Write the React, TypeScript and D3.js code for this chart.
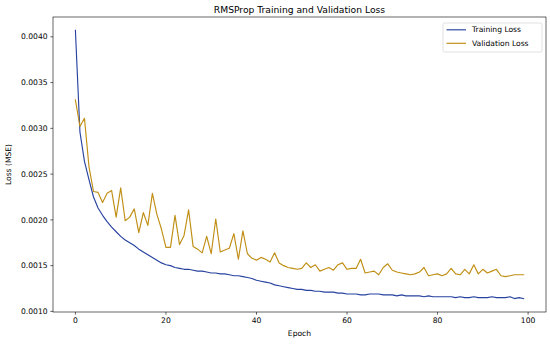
import React from "react";
import * as d3 from "d3";

const epochs: number[] = Array.from({ length: 100 }, (_, i) => i);

const trainingLoss: number[] = [
  0.00407, 0.00296, 0.00264, 0.00244, 0.00225, 0.00213, 0.00205, 0.00198, 0.00192, 0.00187,
  0.00182, 0.00178, 0.00175, 0.00172, 0.00168, 0.00165, 0.00162, 0.00159, 0.00156, 0.00153,
  0.00151, 0.0015, 0.00148, 0.00147, 0.00146, 0.00146, 0.00145, 0.00144, 0.00144, 0.00143,
  0.00142, 0.00142, 0.00141, 0.00141, 0.0014, 0.00139, 0.00139, 0.00138, 0.00137, 0.00136,
  0.00134, 0.00133, 0.00132, 0.00131, 0.00129, 0.00128, 0.00127, 0.00126, 0.00125, 0.00124,
  0.00124, 0.00123, 0.00123, 0.00122, 0.00122, 0.00121, 0.00121, 0.00121, 0.0012, 0.0012,
  0.00119, 0.00119, 0.00119, 0.00118, 0.00118, 0.00119, 0.00119, 0.00119, 0.00118, 0.00118,
  0.00118, 0.00117, 0.00118, 0.00117, 0.00117, 0.00117, 0.00117, 0.00116, 0.00117, 0.00116,
  0.00116, 0.00116, 0.00116, 0.00116, 0.00115, 0.00116, 0.00115, 0.00115, 0.00116, 0.00115,
  0.00115, 0.00115, 0.00116, 0.00115, 0.00115, 0.00115, 0.00116, 0.00114, 0.00115, 0.00114,
];

const validationLoss: number[] = [
  0.00331, 0.00302, 0.00311, 0.00258, 0.00231, 0.0023, 0.00219, 0.00229, 0.00232, 0.00203,
  0.00235, 0.00199, 0.00203, 0.00212, 0.00186, 0.00208, 0.00194, 0.00229, 0.00206, 0.0019,
  0.0017, 0.0017, 0.00205, 0.00173, 0.00183, 0.00211, 0.00171, 0.00168, 0.00164, 0.00182,
  0.00163, 0.00201, 0.00165, 0.00167, 0.00169, 0.00185, 0.00157, 0.00188, 0.00163, 0.00158,
  0.00156, 0.00159, 0.00157, 0.00154, 0.00164, 0.00153, 0.0015, 0.00148, 0.00147, 0.00146,
  0.00147, 0.00153, 0.00148, 0.00151, 0.00144, 0.00146, 0.00148, 0.00145, 0.00151, 0.00153,
  0.00146, 0.00147, 0.00147, 0.00157, 0.00142, 0.00143, 0.00144, 0.0014, 0.00148, 0.00152,
  0.00145, 0.00143, 0.00142, 0.00141, 0.0014, 0.00141, 0.00143, 0.00148, 0.00139, 0.0014,
  0.00141, 0.00139, 0.00141, 0.00147, 0.00141, 0.0014, 0.00146, 0.00141, 0.00151, 0.00141,
  0.00146, 0.00142, 0.00144, 0.00146, 0.00139, 0.00138, 0.00139, 0.0014, 0.0014, 0.0014,
];

const xTicks: number[] = [0, 20, 40, 60, 80, 100];
const yTicks: number[] = [0.001, 0.0015, 0.002, 0.0025, 0.003, 0.0035, 0.004];

const seriesNames: string[] = ["Training Loss", "Validation Loss"];
const seriesColors: string[] = ["#2742a0", "#c08e14"];

const W = 550;
const H = 344;
const left = 53;
const right = 546;
const top = 17;
const bottom = 312;
const FONT = "DejaVu Sans, sans-serif";

export default function App() {
  const xMin = 0, xMax = 99;
  const xPad = (xMax - xMin) * 0.05;
  const x = d3.scaleLinear().domain([xMin - xPad, xMax + xPad]).range([left, right]);
  const all = trainingLoss.concat(validationLoss);
  const yLo = d3.min(all) as number;
  const yHi = d3.max(all) as number;
  const yPad = (yHi - yLo) * 0.05;
  const y = d3.scaleLinear().domain([yLo - yPad, yHi + yPad]).range([bottom, top]);

  const line = d3
    .line<number>()
    .x((_, i) => x(epochs[i]))
    .y((d) => y(d));

  const series = [trainingLoss, validationLoss];
  const tickLen = 2.7;
  const fs = 7.6;

  return (
    <svg
      width={W}
      height={H}
      style={{ position: "absolute", left: 0, top: 0, background: "#fff" }}
      fontFamily={FONT}
    >
      <rect x={0} y={0} width={W} height={H} fill="#fff" />
      <text x={(left + right) / 2} y={13} textAnchor="middle" fontSize={9.2} fill="#000">
        RMSProp Training and Validation Loss
      </text>

      <defs>
        <clipPath id="plotclip">
          <rect x={left} y={top} width={right - left} height={bottom - top} />
        </clipPath>
      </defs>

      <g clipPath="url(#plotclip)">
        {series.map((s, k) => (
          <path
            key={k}
            d={line(s) || ""}
            fill="none"
            stroke={seriesColors[k]}
            strokeWidth={1.15}
            strokeLinejoin="round"
            strokeLinecap="square"
          />
        ))}
      </g>

      {/* frame */}
      <rect
        x={left}
        y={top}
        width={right - left}
        height={bottom - top}
        fill="none"
        stroke="#000"
        strokeWidth={0.6}
      />

      {/* x ticks */}
      {xTicks.map((t) => (
        <g key={"x" + t}>
          <line x1={x(t)} x2={x(t)} y1={bottom} y2={bottom + tickLen} stroke="#000" strokeWidth={0.6} />
          <text x={x(t)} y={bottom + tickLen + 2.7 + 6} textAnchor="middle" fontSize={fs} fill="#000">
            {t}
          </text>
        </g>
      ))}

      {/* y ticks */}
      {yTicks.map((t) => (
        <g key={"y" + t}>
          <line x1={left - tickLen} x2={left} y1={y(t)} y2={y(t)} stroke="#000" strokeWidth={0.6} />
          <text
            x={left - tickLen - 2.7}
            y={y(t)}
            dy="0.35em"
            textAnchor="end"
            fontSize={fs}
            fill="#000"
          >
            {d3.format(".4f")(t)}
          </text>
        </g>
      ))}

      <text x={(left + right) / 2} y={336} textAnchor="middle" fontSize={fs} fill="#000">
        Epoch
      </text>
      <text
        transform={`translate(10.5, ${(top + bottom) / 2}) rotate(-90)`}
        textAnchor="middle"
        fontSize={fs}
        fill="#000"
      >
        Loss (MSE)
      </text>

      {/* legend */}
      <g>
        <rect
          x={443}
          y={23}
          width={99}
          height={29}
          rx={1.5}
          fill="#fff"
          fillOpacity={0.8}
          stroke="#ccc"
          strokeWidth={0.6}
        />
        {seriesNames.map((n, k) => (
          <g key={n}>
            <line
              x1={446.5}
              x2={466}
              y1={29.8 + k * 13.5}
              y2={29.8 + k * 13.5}
              stroke={seriesColors[k]}
              strokeWidth={1.15}
            />
            <text x={472} y={29.8 + k * 13.5} dy="0.35em" fontSize={fs} fill="#000">
              {n}
            </text>
          </g>
        ))}
      </g>
    </svg>
  );
}
